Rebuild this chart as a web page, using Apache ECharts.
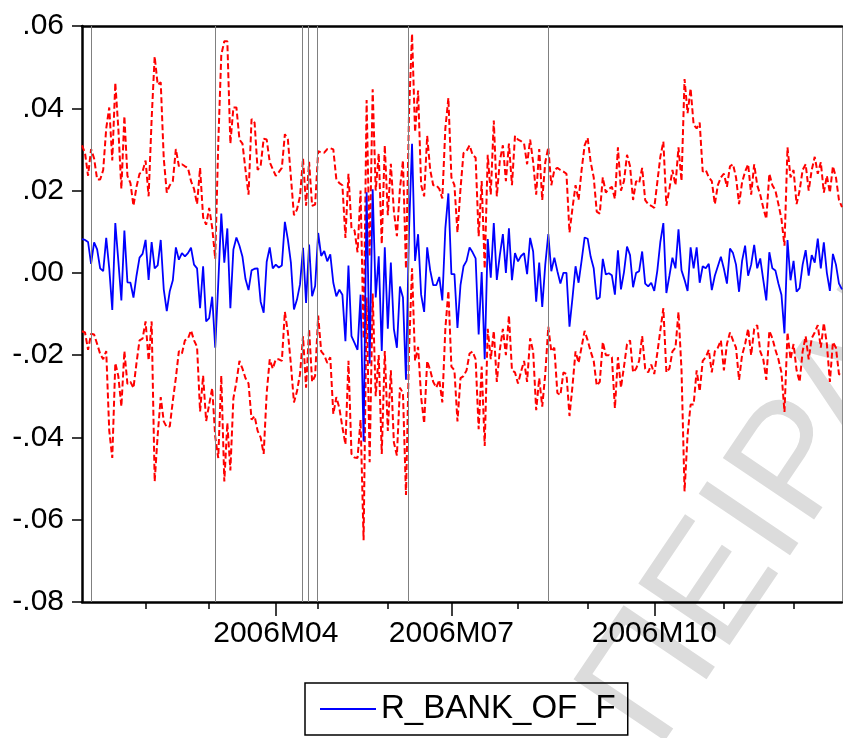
<!DOCTYPE html>
<html><head><meta charset="utf-8">
<script src="https://cdn.jsdelivr.net/npm/echarts@6/dist/echarts.min.js"></script>
<style>html,body{margin:0;padding:0;background:#fff}#c{width:843px;height:738px}</style>
</head><body><div id="c"></div>
<script>
const seriesName = 'R_BANK_OF_F';

const rBank = [
0.0082, 0.008, 0.0075, 0.0022, 0.0074, 0.0057, 0.0011, 0.0004, 0.0085, 0.0011,
-0.009, 0.0121, 0.0029, -0.0067, 0.0103, -0.0023, -0.0024, -0.006, -0.0007, 0.0037,
0.0046, 0.008, -0.0017, 0.0075, 0.0011, 0.0018, 0.008, -0.004, -0.0093, -0.0044,
-0.0018, 0.0062, 0.0032, 0.0048, 0.004, 0.0048, 0.0061, 0.002, 0.0011, -0.0086,
0.0016, -0.0118, -0.011, -0.0058, -0.0182, -0.0026, 0.0144, 0.0025, 0.0108, -0.0086,
0.0057,
0.0086, 0.0066, 0.0039, -0.0015, -0.0042, 0.0006, 0.001, 0.0011, -0.007, -0.0097,
0.0027, 0.0062, 0.0011, 0.002, 0.0013, 0.0018, 0.0124, 0.0081, 0.0024, -0.0089,
-0.0065, -0.0028, 0.0061, -0.0073, 0.0069, -0.0057, -0.0032, 0.0097, 0.0041, 0.0053,
0.0028, 0.0045, -0.0024, -0.0057, -0.0041, -0.0053, -0.0166, 0.0018, -0.0154, -0.017,
-0.0187, -0.0053, -0.041, 0.0196, -0.022, 0.0203, -0.006, 0.004, -0.019, 0.0062,
-0.0136, 0.0025, -0.0136, -0.0182, -0.0033, -0.006, -0.026, 0.0103, 0.0314, 0.0029,
0.0094, -0.0053, -0.0095, 0.0062, 0.0006, -0.003, -0.003, -0.001, -0.0067, 0.0108,
0.0193, -0.0003, -0.0003, -0.0134, -0.003, 0.0016, 0.0029, 0.0062, 0.005, 0.0035,
-0.015, 0.0002, -0.021, 0.0082, -0.0012, 0.0121, -0.0017, 0.0043, 0.0094, 0,
0.0108, -0.0018, 0.0048, 0.0028, 0.0041, 0.0048, -0.0003, 0.0085, 0.0052, -0.007,
0.0025,
-0.0083, 0.002, 0.0094, 0.0004, 0.0037, 0.0004, -0.0026, 0, 0, -0.0131,
-0.006, 0.0016, -0.0024, 0.003, 0.0086, 0.0083, 0.0039, 0.0011, -0.0064, -0.006,
0.0034, -0.0004, -0.0001, -0.0006, -0.0053, 0.0055, -0.004, 0.0002, 0.0064, 0.0043,
-0.0035, 0, 0.0004, 0.0052, -0.0026, -0.0033, -0.0024, -0.0044, 0.0005, 0.0075,
0.0121, -0.0049, -0.0007, 0.0037, 0.0011, 0.0106, 0.0006, -0.0017, -0.0044, 0.0062,
0.0011, 0.0062, -0.0024, 0.0016, 0.0011, 0.0022, -0.0042, -0.0007, 0.0016, 0.0039,
0.001, -0.0026, 0.0059, 0.0048, 0.002, -0.0046, 0.0029, 0.0066, -0.0007, 0.002,
0.0068, 0.0011, 0.0035, -0.0017, -0.0067, 0.005, 0.0011, 0.0006, -0.0026, -0.0053,
-0.0147, 0.008, -0.0018, 0.0029, -0.0046, -0.0037, 0.002, 0.0055, -0.0007, 0.0043,
0.0025, 0.0083, 0.0011, 0.0074, 0, -0.0044, 0.0046, 0.002, -0.0026, -0.004
];

const upperBand = [
0.031, 0.0291, 0.0236, 0.0301, 0.0278, 0.0227, 0.0227, 0.025, 0.0351, 0.0402,
0.0273, 0.0462, 0.0351, 0.0204, 0.0381, 0.0236, 0.0218, 0.0163, 0.0209, 0.0241,
0.0246, 0.0273, 0.0186, 0.0374, 0.0526, 0.0457, 0.0463, 0.0278, 0.0195, 0.0213,
0.0223, 0.0301, 0.0259, 0.0264, 0.0259, 0.0255, 0.0223, 0.0204, 0.0167, 0.0255,
0.0135, 0.0117, 0.0158, 0.011, 0.0034, 0.0314, 0.053, 0.0563, 0.0563, 0.0314,
0.0402,
0.0402, 0.0324, 0.0314, 0.025, 0.019, 0.0374, 0.0365, 0.025, 0.026, 0.0326,
0.0324, 0.0269, 0.0252, 0.0236, 0.0245, 0.0255, 0.0337, 0.0324, 0.0232, 0.014,
0.0154, 0.0186, 0.0278, 0.0163, 0.027, 0.0163, 0.0166, 0.0296, 0.0292, 0.0292,
0.0301, 0.0303, 0.03, 0.0227, 0.0218, 0.0213, 0.0085, 0.0241, 0.0108, 0.0103,
0.005, 0.02, -0.016, 0.042, 0.004, 0.0446, 0.02, 0.029, 0.007, 0.031,
0.014, 0.0265, 0.015, 0.0089, 0.0204, 0.0273, 0.001, 0.0388, 0.0581, 0.0342,
0.0443, 0.0213, 0.0186, 0.0333, 0.025, 0.0213, 0.0213, 0.0204, 0.0181, 0.0351,
0.0425, 0.0232, 0.0213, 0.0098, 0.0204, 0.0291, 0.0296, 0.031, 0.0287, 0.028,
0.0089, 0.0223, 0.001, 0.0287, 0.019, 0.037, 0.0186, 0.0273, 0.031, 0.0223,
0.0314, 0.0213, 0.0333, 0.0324, 0.032, 0.0314, 0.0264, 0.0324, 0.0269, 0.019,
0.0301,
0.0177, 0.0269, 0.0305, 0.0213, 0.025, 0.0255, 0.025, 0.0246, 0.0241, 0.0098,
0.0158, 0.0213, 0.0177, 0.025, 0.031, 0.0328, 0.0269, 0.0232, 0.0149, 0.0144,
0.0232, 0.0195, 0.0204, 0.0209, 0.018, 0.0305, 0.02, 0.0223, 0.0287, 0.0259,
0.0177, 0.0223, 0.0218, 0.0255, 0.0177, 0.0167, 0.0163, 0.0158, 0.022, 0.0282,
0.0319, 0.0163, 0.0204, 0.025, 0.0213, 0.0305, 0.0223, 0.0471, 0.0388, 0.0448,
0.036, 0.0351, 0.0365, 0.0246, 0.025, 0.0232, 0.0223, 0.0167, 0.0213, 0.0232,
0.0241, 0.0209, 0.0259, 0.0264, 0.0232, 0.0167, 0.022, 0.0246, 0.0264, 0.019,
0.0264, 0.0213, 0.019, 0.0158, 0.0131, 0.0241, 0.0213, 0.02, 0.0167, 0.0131,
0.0066, 0.0305, 0.0232, 0.025, 0.0167, 0.02, 0.025, 0.0264, 0.02, 0.025,
0.0282, 0.0241, 0.0269, 0.0195, 0.0236, 0.0195, 0.0259, 0.0232, 0.0177, 0.016
];

const lowerBand = [
-0.0142, -0.0145, -0.0187, -0.0148, -0.015, -0.0173, -0.0197, -0.021, -0.019, -0.0384,
-0.045, -0.0219, -0.0251, -0.0325, -0.019, -0.027, -0.0265, -0.028, -0.0219, -0.0164,
-0.016, -0.0118, -0.0213, -0.0118, -0.0507, -0.0394, -0.0302, -0.0361, -0.0375, -0.0373,
-0.0311, -0.0255, -0.019, -0.0196, -0.0164, -0.016, -0.014, -0.0164, -0.018, -0.0337,
-0.025, -0.036, -0.032, -0.028, -0.0398, -0.045, -0.025, -0.0507, -0.0365, -0.048,
-0.0305,
-0.0265, -0.0214, -0.0233, -0.0256, -0.0269, -0.0357, -0.0348, -0.0384, -0.040, -0.044,
-0.0292, -0.021, -0.0233, -0.021, -0.021, -0.0214, -0.0095, -0.0145, -0.0223, -0.0315,
-0.0288, -0.0246, -0.0154, -0.0279, -0.0136, -0.0265, -0.025, -0.0104, -0.0191, -0.02,
-0.0219, -0.0205, -0.0343, -0.0302, -0.0329, -0.0375, -0.0417, -0.0214, -0.044, -0.0449,
-0.045, -0.0357, -0.065, -0.006, -0.046, -0.005, -0.03, -0.02, -0.044, -0.019,
-0.0384, -0.0237, -0.0412, -0.0444, -0.0279, -0.0292, -0.054, -0.0191, 0.0011, -0.0214,
-0.018, -0.0302, -0.0366, -0.0214, -0.0237, -0.0265, -0.0279, -0.026, -0.0315, -0.0136,
-0.0044, -0.0228, -0.0237, -0.0361, -0.0256, -0.0251, -0.0237, -0.0196, -0.0191, -0.021,
-0.038, -0.0228, -0.0421, -0.0136, -0.021, -0.0141, -0.0265, -0.0187, -0.0136, -0.02,
-0.0104, -0.0237, -0.0242, -0.0269, -0.024, -0.0214, -0.0265, -0.0159, -0.0191, -0.0334,
-0.0256,
-0.0325, -0.0246, -0.0131, -0.0191, -0.0182, -0.0292, -0.0297, -0.0242, -0.0246, -0.0348,
-0.0274, -0.0191, -0.0219, -0.018, -0.0141, -0.0164, -0.0191, -0.0214, -0.0274, -0.0265,
-0.0168, -0.02, -0.02, -0.0205, -0.0329, -0.0205, -0.0279, -0.0228, -0.0173, -0.0164,
-0.0242, -0.0233, -0.0214, -0.0154, -0.0233, -0.0242, -0.0223, -0.0246, -0.0195, -0.014,
-0.0086, -0.0242, -0.0233, -0.0191, -0.0182, -0.0095, -0.0237, -0.0531, -0.0394, -0.032,
-0.032, -0.0237, -0.0288, -0.0214, -0.0205, -0.0187, -0.0242, -0.0191, -0.0182, -0.0164,
-0.0237, -0.0173, -0.0145, -0.0164, -0.0182, -0.026, -0.02, -0.0173, -0.0136, -0.02,
-0.0136, -0.0127, -0.0191, -0.021, -0.026, -0.0141, -0.0159, -0.0187, -0.021, -0.0242,
-0.0338, -0.0145, -0.021, -0.0173, -0.0237, -0.0265, -0.0191, -0.0154, -0.021, -0.0159,
-0.0145, -0.0127, -0.0182, -0.0122, -0.0173, -0.0265, -0.0168, -0.0182, -0.0246, -0.025
];

// x positions (observation numbers) of month ticks and labelled quarter ticks
const quarterTickPos = [64, 122, 189];
const quarterTickLabels = ['2006M04', '2006M07', '2006M10'];
const monthTickPos = [21, 42, 78, 101, 144, 167, 212, 235];
// observations marked with vertical reference lines
const eventLinePos = [2.9, 43.9, 72.6, 74.6, 77.8, 107.6, 154.1];
const watermarkText = 'ΠΕΙΡΑΙΩΣ';

const FONT = '"Liberation Sans", Arial, Helvetica, sans-serif';
const lastIdx = rBank.length - 1;
const toPairs = arr => arr.map((v, i) => [i, v]);
const fmtY = v => { let s = (+v).toFixed(2); if (s === '-0.00') s = '0.00'; return s.replace('0.', '.'); };

const chart = echarts.init(document.getElementById('c'), null, { renderer: 'canvas' });
chart.setOption({
  animation: false,
  backgroundColor: '#fff',
  grid: { left: 82, right: 1, top: 26, bottom: 136 },
  xAxis: [
    {
      type: 'value', min: 0, max: lastIdx, position: 'bottom',
      axisLine: { show: true, onZero: false, lineStyle: { color: '#000', width: 2.5 } },
      axisTick: { show: true, customValues: monthTickPos, length: 7, lineStyle: { color: '#000', width: 1.5 } },
      axisLabel: {
        show: true, customValues: quarterTickPos,
        formatter: v => { const k = quarterTickPos.indexOf(Math.round(v)); return k >= 0 ? quarterTickLabels[k] : ''; },
        fontSize: 30, fontFamily: FONT, color: '#000', margin: 17
      },
      splitLine: { show: false }
    },
    {
      type: 'value', min: 0, max: lastIdx, position: 'bottom',
      axisLine: { show: false, onZero: false },
      axisTick: { show: true, customValues: quarterTickPos, length: 14, lineStyle: { color: '#000', width: 1.5 } },
      axisLabel: { show: false }, splitLine: { show: false }
    },
    {
      type: 'value', min: 0, max: lastIdx, position: 'top',
      axisLine: { show: true, onZero: false, lineStyle: { color: '#000', width: 2.5 } },
      axisTick: { show: false }, axisLabel: { show: false }, splitLine: { show: false }
    }
  ],
  yAxis: [
    {
      type: 'value', min: -0.08, max: 0.06, interval: 0.02, position: 'left',
      axisLine: { show: true, onZero: false, lineStyle: { color: '#000', width: 2.5 } },
      axisTick: { show: true, length: 10, lineStyle: { color: '#000', width: 1.5 } },
      axisLabel: { formatter: fmtY, fontSize: 30, fontFamily: FONT, color: '#000', margin: 18 },
      splitLine: { show: false }
    },
    {
      type: 'value', min: -0.08, max: 0.06, position: 'right',
      axisLine: { show: true, onZero: false, lineStyle: { color: '#888', width: 1 } },
      axisTick: { show: false }, axisLabel: { show: false }, splitLine: { show: false }
    }
  ],
  legend: {
    data: [seriesName], left: 305, top: 683, icon: 'rect', itemWidth: 56, itemHeight: 2,
    padding: [8, 12, 8, 15], borderColor: '#000', borderWidth: 1.5, selectedMode: false,
    textStyle: { fontSize: 33, fontFamily: FONT, color: '#000', lineHeight: 36 }
  },
  graphic: [{
    type: 'text', x: 621, y: 727, rotation: 56 * Math.PI / 180, z: -10, silent: true,
    style: { text: watermarkText, font: '160px "Liberation Sans", Arial, sans-serif', fill: '#dcdcdc', align: 'left', verticalAlign: 'middle' }
  }],
  series: [
    {
      type: 'line', name: 'events', data: [], z: 1, silent: true,
      markLine: {
        silent: true, symbol: ['none', 'none'], label: { show: false }, animation: false,
        lineStyle: { color: '#808080', width: 1, type: 'solid' },
        data: eventLinePos.map(x => ({ xAxis: x }))
      }
    },
    {
      type: 'line', name: 'upper', data: toPairs(upperBand), symbol: 'none', z: 2, silent: true,
      lineStyle: { color: '#ff0000', width: 2, type: [6, 3] }, itemStyle: { color: '#ff0000' }
    },
    {
      type: 'line', name: 'lower', data: toPairs(lowerBand), symbol: 'none', z: 2, silent: true,
      lineStyle: { color: '#ff0000', width: 2, type: [6, 3] }, itemStyle: { color: '#ff0000' }
    },
    {
      type: 'line', name: seriesName, data: toPairs(rBank), symbol: 'none', z: 3, silent: true,
      lineStyle: { color: '#0000ff', width: 1.8 }, itemStyle: { color: '#0000ff' }
    }
  ]
});
</script>
</body></html>
